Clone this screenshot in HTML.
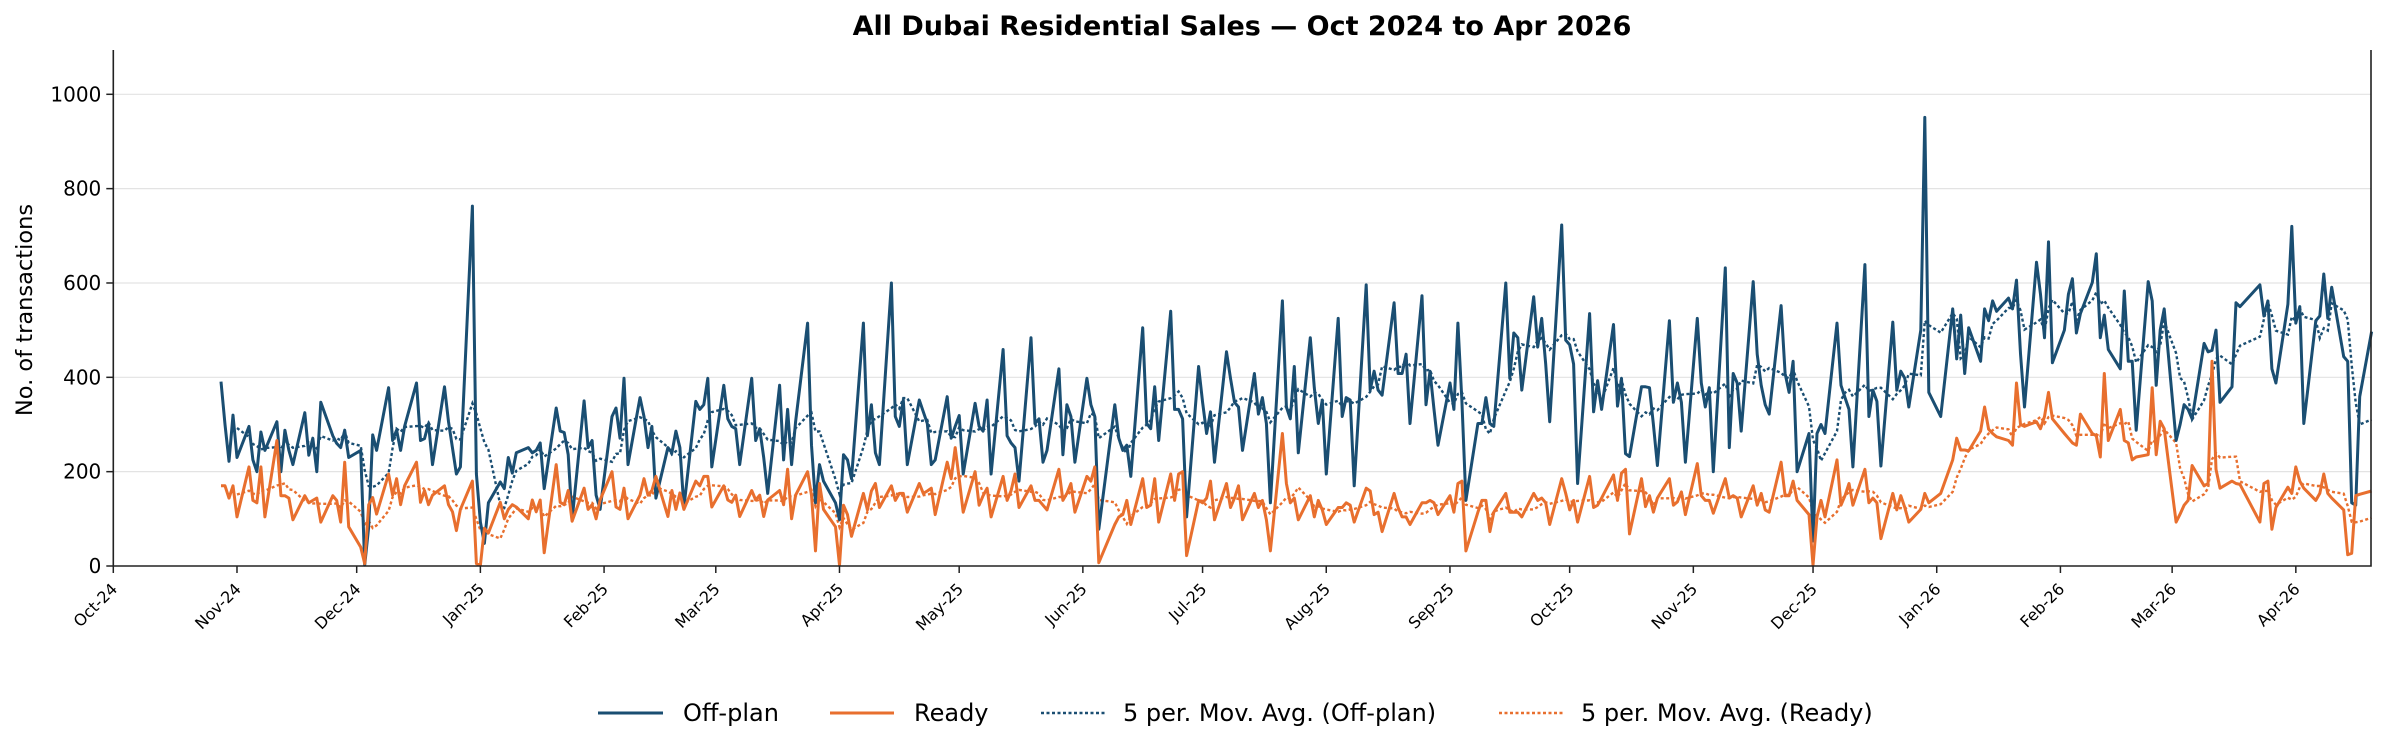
<!DOCTYPE html>
<html><head><meta charset="utf-8"><title>All Dubai Residential Sales</title>
<style>
html,body{margin:0;padding:0;background:#fff;}
svg{display:block;font-family:"DejaVu Sans","Liberation Sans",sans-serif;}
</style></head>
<body>
<svg id="chart" width="2385" height="751" viewBox="0 0 2385 751" xmlns="http://www.w3.org/2000/svg">
<rect width="2385" height="751" fill="#fff"/>
<text x="1242" y="35" text-anchor="middle" font-size="27" font-weight="bold" fill="#000">All Dubai Residential Sales — Oct 2024 to Apr 2026</text>
<g id="grid"></g>
<g id="series"></g>
<g id="axes"></g>
<text transform="translate(32,310) rotate(-90)" text-anchor="middle" font-size="22.5" fill="#000">No. of transactions</text>
<g>
 <g>
  <line x1="598" y1="713" x2="663" y2="713" stroke="#1a4e72" stroke-width="3"/>
  <text x="683" y="721" font-size="24" fill="#000">Off-plan</text></g>
 <g>
  <line x1="830" y1="713" x2="894" y2="713" stroke="#e86f2e" stroke-width="3"/>
  <text x="914" y="721" font-size="24" fill="#000">Ready</text></g>
 <g>
  <line x1="1041" y1="713" x2="1105" y2="713" stroke="#1a4e72" stroke-width="2.4" stroke-dasharray="3,2.5"/>
  <text x="1123" y="721" font-size="24" fill="#000">5 per. Mov. Avg. (Off-plan)</text></g>
 <g>
  <line x1="1499" y1="713" x2="1563" y2="713" stroke="#e86f2e" stroke-width="2.4" stroke-dasharray="3,2.5"/>
  <text x="1581" y="721" font-size="24" fill="#000">5 per. Mov. Avg. (Ready)</text></g>
</g>
</svg>
<script>
// day offsets from 1 Oct 2024
const dayIndex = [27,28,29,30,31,34,35,36,37,38,41,42,43,44,45,48,49,50,51,52,55,56,57,58,59,62,63,64,65,66,69,70,71,72,73,76,77,78,79,80,83,84,85,86,87,90,91,92,93,94,97,98,99,100,101,104,105,106,107,108,111,112,113,114,115,118,119,120,121,122,125,126,127,128,129,132,133,134,135,136,139,140,141,142,143,146,147,148,149,150,153,154,155,156,157,160,161,162,163,164,167,168,169,170,171,174,175,176,177,178,181,182,183,184,185,188,189,190,191,192,195,196,197,198,199,202,203,204,205,206,209,210,211,212,213,216,217,218,219,220,223,224,225,226,227,230,231,232,233,234,237,238,239,240,241,244,245,246,247,251,252,253,254,255,258,259,260,261,262,265,266,267,268,269,272,273,274,275,276,279,280,281,282,283,286,287,288,289,290,293,294,295,296,297,300,301,302,303,304,307,308,309,310,311,314,315,316,317,318,321,322,323,324,325,328,329,330,331,332,335,336,337,338,339,342,343,344,345,346,349,350,351,352,353,356,357,358,359,360,363,364,365,366,367,370,371,372,373,376,377,378,379,380,383,384,385,386,387,390,391,392,393,394,397,398,399,400,401,404,405,406,407,408,411,412,413,414,415,418,419,420,421,422,425,426,427,428,429,432,433,434,435,436,439,440,441,442,443,446,447,448,449,450,453,454,455,458,461,462,463,464,465,468,469,470,471,472,475,476,477,478,479,482,483,484,485,486,489,490,491,492,493,496,497,498,499,500,503,504,505,506,507,510,511,512,513,514,517,518,519,520,521,524,525,526,527,528,531,532,533,538,539,540,541,542,545,546,547,548,549,552,553,554,555,556,559,560,561,562,563,566];
const offPlan = [391,300,222,320,230,296,225,200,284,245,306,200,288,245,215,325,235,271,200,347,276,260,251,288,230,245,2,83,278,245,378,266,288,245,296,388,266,270,302,215,380,306,250,195,210,763,195,93,48,134,178,164,230,197,240,251,240,245,261,164,335,286,283,236,98,350,251,266,150,120,317,335,271,398,215,357,317,251,296,144,251,240,286,251,124,349,332,342,398,210,383,312,296,291,215,398,266,291,230,154,383,225,332,215,306,515,256,134,215,180,134,98,236,225,185,515,276,342,240,215,600,317,296,352,215,352,327,302,215,225,359,271,296,319,195,345,296,286,352,195,459,276,261,251,180,484,302,312,220,245,418,236,342,317,220,398,342,317,78,342,271,245,256,190,505,302,291,380,266,540,332,332,312,104,423,347,281,327,220,454,398,347,337,245,408,322,357,302,134,562,337,312,423,240,484,378,302,352,195,525,317,357,352,170,596,373,413,373,362,558,408,408,449,302,573,342,413,332,256,388,332,515,350,139,302,302,357,302,296,600,398,494,484,373,571,464,525,428,306,723,479,469,428,175,535,327,393,332,512,339,398,238,232,380,380,378,300,213,520,347,388,347,220,525,388,337,378,200,632,251,408,388,286,603,449,383,342,322,552,408,368,434,200,281,53,281,300,281,515,383,357,332,210,639,317,373,349,212,517,373,413,398,337,500,951,368,317,545,439,532,408,505,434,545,520,562,540,568,545,606,450,337,644,576,484,687,431,500,576,609,494,535,601,662,484,532,459,418,583,434,434,288,603,562,383,500,545,266,300,342,332,312,472,454,457,500,347,380,558,550,596,530,562,418,388,555,720,515,550,302,520,530,619,525,591,444,434,134,129,359,497];
const ready = [170,170,144,170,104,210,139,134,210,104,266,149,149,144,98,149,134,139,144,93,149,139,93,220,83,40,5,130,145,110,195,150,185,130,170,220,135,160,130,150,170,130,115,75,120,180,5,2,80,70,135,100,120,130,125,100,140,115,140,28,215,135,130,160,95,165,120,130,100,140,200,125,120,165,100,150,185,150,160,190,105,160,120,155,120,180,170,190,190,125,170,140,135,150,105,160,140,150,105,140,160,130,205,100,150,200,150,32,175,120,83,2,129,109,63,154,119,159,175,124,170,139,154,154,114,175,154,159,165,109,220,185,251,185,114,200,129,149,165,104,190,139,159,195,124,170,139,139,129,119,205,139,154,175,114,190,180,210,7,88,104,109,139,88,185,124,129,185,93,195,139,195,200,22,139,134,144,180,98,175,124,144,170,98,154,124,139,98,32,281,175,134,144,98,149,104,139,119,88,124,124,134,129,93,165,159,109,114,73,154,124,104,104,88,134,134,139,134,109,149,114,175,180,32,114,139,139,73,114,154,114,114,114,104,154,139,144,134,88,185,154,119,139,93,190,124,129,144,193,139,197,205,68,185,126,149,114,144,185,129,136,157,109,217,149,139,139,112,185,144,149,144,104,170,129,154,119,114,220,149,149,180,139,109,2,104,139,104,225,129,149,175,129,205,134,144,134,58,154,119,149,124,93,120,154,134,154,225,271,246,246,244,286,337,290,281,274,266,256,388,300,296,306,291,317,368,312,281,271,261,256,322,281,276,231,408,266,332,266,261,225,231,236,378,236,307,291,93,110,129,139,213,170,175,434,205,165,180,175,173,93,175,180,78,124,167,154,210,180,165,139,154,195,154,144,119,24,27,149,152,159];
const yTicks = [0,200,400,600,800,1000];
const monthLabels = ["Oct-24","Nov-24","Dec-24","Jan-25","Feb-25","Mar-25","Apr-25","May-25","Jun-25","Jul-25","Aug-25","Sep-25","Oct-25","Nov-25","Dec-25","Jan-26","Feb-26","Mar-26","Apr-26"];
const monthDays = [0,31,61,92,123,151,182,212,243,273,304,335,365,396,426,457,488,516,547];
const maPeriod = 5;

const NS="http://www.w3.org/2000/svg";
const X0=113.3, PXD=3.99, Y0=566, PXV=0.4717, XR=2371, YT=50;
const xs=d=>X0+d*PXD;
const ys=v=>Y0-v*PXV;
function mk(tag,attrs,parent){const e=document.createElementNS(NS,tag);for(const k in attrs)e.setAttribute(k,attrs[k]);parent.appendChild(e);return e;}
const grid=document.getElementById('grid'), axes=document.getElementById('axes'), ser=document.getElementById('series');

yTicks.forEach(v=>{
  if(v>0){const g=mk('line',{x1:X0,x2:XR,y1:ys(v),y2:ys(v),stroke:'#e3e3e3','stroke-width':1.2},grid);
  
  }
  const t=mk('line',{x1:X0-7,x2:X0,y1:ys(v),y2:ys(v),stroke:'#222','stroke-width':1.5},axes);
  
  
  const l=mk('text',{x:X0-12,y:ys(v)+7,'text-anchor':'end','font-size':20,fill:'#000'},axes);
  l.textContent=v;
  
  
});
monthDays.forEach((d,i)=>{
  const x=xs(d);
  const t=mk('line',{x1:x,x2:x,y1:Y0,y2:Y0+7,stroke:'#222','stroke-width':1.5},axes);
  
  
  const l=mk('text',{transform:`translate(${x+5},${Y0+24}) rotate(-45)`,'text-anchor':'end','font-size':16,fill:'#000'},axes);
  l.textContent=monthLabels[i];
  
  
});
const sp=mk('path',{d:`M${X0},${YT} V${Y0} H${XR} V${YT}`,fill:'none',stroke:'#222','stroke-width':1.6},axes);



function pathOf(vals,start){let s='';for(let i=start;i<vals.length;i++){if(vals[i]==null)continue;s+=(s?'L':'M')+xs(dayIndex[i]).toFixed(1)+','+ys(vals[i]).toFixed(1);}return s;}
function movAvg(vals){return vals.map((v,i)=>{if(i<maPeriod-1)return null;let s=0;for(let k=0;k<maPeriod;k++)s+=vals[i-k];return s/maPeriod;});}

const maO=mk('path',{d:pathOf(movAvg(offPlan),0),fill:'none',stroke:'#1a4e72','stroke-width':2.4,'stroke-dasharray':'3,2.5'},ser);


const maR=mk('path',{d:pathOf(movAvg(ready),0),fill:'none',stroke:'#e86f2e','stroke-width':2.4,'stroke-dasharray':'3,2.5'},ser);


const lo=mk('path',{d:pathOf(offPlan,0),fill:'none',stroke:'#1a4e72','stroke-width':3,'stroke-linejoin':'round'},ser);


const lr=mk('path',{d:pathOf(ready,0),fill:'none',stroke:'#e86f2e','stroke-width':3,'stroke-linejoin':'round'},ser);


</script>
</body></html>
